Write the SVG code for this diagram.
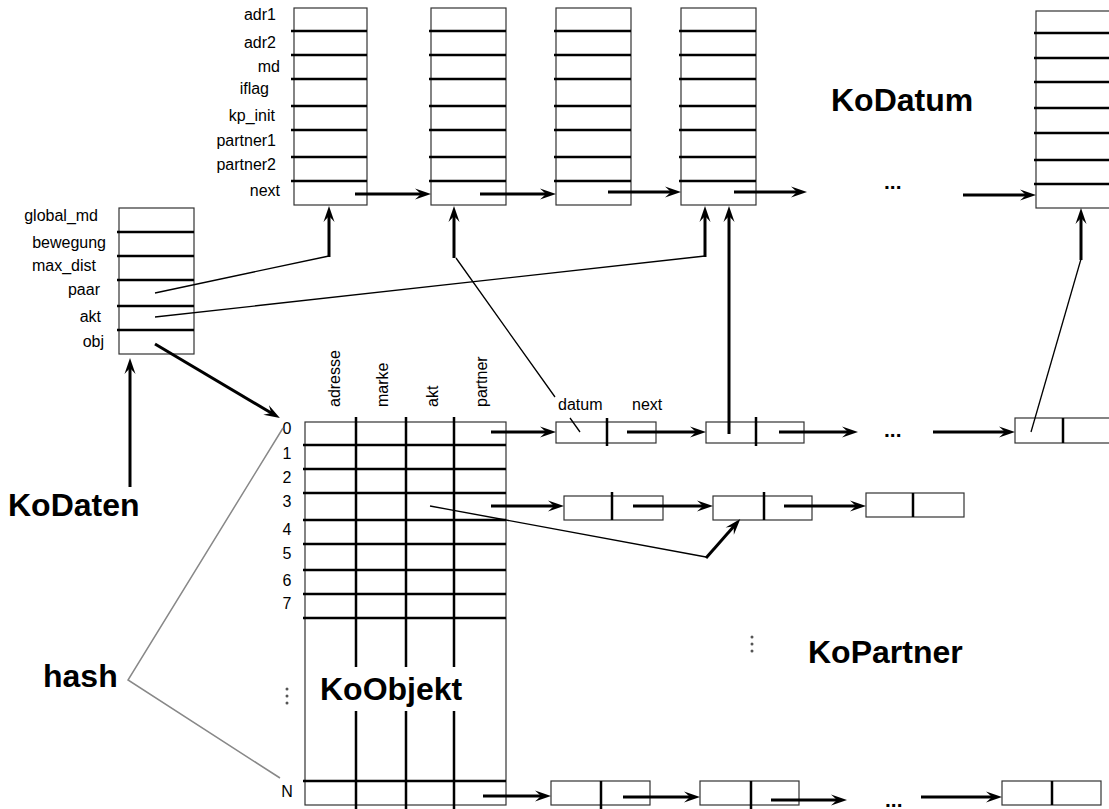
<svg xmlns="http://www.w3.org/2000/svg" width="1109" height="809" viewBox="0 0 1109 809">
<defs>
<marker id="ah" markerUnits="userSpaceOnUse" markerWidth="17" markerHeight="12" refX="8" refY="6" orient="auto" overflow="visible">
<path d="M0,0.5 L16,6 L0,11.5 L6,6 Z" fill="#000"/>
</marker>
<style>
.box{fill:#fff;stroke:#333;stroke-width:1.2}
.sep{stroke:#000;stroke-width:2.5;fill:none}
.arr{stroke:#000;stroke-width:3;fill:none;marker-end:url(#ah)}
.thin{stroke:#000;stroke-width:1.3;fill:none}
.gray{stroke:#888;stroke-width:1.5;fill:none}
.lbl{font-family:"Liberation Sans",Arial,sans-serif;font-size:16px;fill:#000}
.big{font-family:"Liberation Sans",Arial,sans-serif;font-size:32px;font-weight:bold;fill:#000}
.dots{font-family:"Liberation Sans",Arial,sans-serif;font-size:21px;font-weight:bold;fill:#000}
.vd{fill:#555}
</style>
</defs>
<rect width="1109" height="809" fill="#fff"/>

<!-- KoDatum records -->
<g id="kodatum-labels" class="lbl" text-anchor="end">
<text x="276" y="20">adr1</text>
<text x="276" y="48">adr2</text>
<text x="280" y="72">md</text>
<text x="269" y="94">iflag</text>
<text x="275" y="121">kp_init</text>
<text x="276" y="146">partner1</text>
<text x="276" y="170">partner2</text>
<text x="280" y="196">next</text>
</g>
<g id="kodatum1">
<rect class="box" x="294" y="8" width="73" height="197"/>
<path class="sep" d="M291,31H367M291,55H367M291,79H367M291,106H367M291,130H367M291,157H367M291,181H367"/>
</g>
<g id="kodatum2">
<rect class="box" x="431" y="8" width="75" height="197"/>
<path class="sep" d="M429,31H506M429,55H506M429,79H506M429,106H506M429,130H506M429,157H506M429,181H506"/>
</g>
<g id="kodatum3">
<rect class="box" x="556" y="8" width="75" height="197"/>
<path class="sep" d="M554,31H631M554,55H631M554,79H631M554,106H631M554,130H631M554,157H631M554,181H631"/>
</g>
<g id="kodatum4">
<rect class="box" x="681" y="8" width="75" height="197"/>
<path class="sep" d="M679,31H756M679,55H756M679,79H756M679,106H756M679,130H756M679,157H756M679,181H756"/>
</g>
<g id="kodatum5">
<rect class="box" x="1036" y="11" width="80" height="197"/>
<path class="sep" d="M1034,33H1109M1034,58H1109M1034,82H1109M1034,108H1109M1034,133H1109M1034,160H1109M1034,184H1109"/>
</g>
<text id="kodatum-title" class="big" x="831" y="111">KoDatum</text>
<text id="kodatum-dots" class="dots" x="884" y="189">...</text>

<!-- KoDaten record -->
<g id="kodaten">
<rect class="box" x="119" y="208" width="75" height="146"/>
<path class="sep" d="M117,232H194M117,256H194M117,280H194M117,306H194M117,330H194"/>
<g class="lbl" text-anchor="end">
<text x="98" y="221">global_md</text>
<text x="106" y="248">bewegung</text>
<text x="96" y="271">max_dist</text>
<text x="100" y="295">paar</text>
<text x="101" y="322">akt</text>
<text x="104" y="347">obj</text>
</g>
</g>
<text id="kodaten-title" class="big" x="8" y="516">KoDaten</text>

<!-- KoObjekt table -->
<g id="koobjekt">
<rect class="box" x="305" y="422" width="201" height="383"/>
<path class="sep" d="M303,445H506M303,469H506M303,493H506M303,520H506M303,544H506M303,570H506M303,594H506M303,618H506M303,781H506"/>
<path class="sep" d="M356,417V667M406,417V667M454,417V667M356,711V809M406,711V809M454,711V809"/>
<g class="lbl">
<text transform="translate(340,407) rotate(-90)">adresse</text>
<text transform="translate(388,407) rotate(-90)">marke</text>
<text transform="translate(438,407) rotate(-90)">akt</text>
<text transform="translate(487,407) rotate(-90)">partner</text>
</g>
<g class="lbl" text-anchor="middle">
<text x="287" y="434">0</text>
<text x="287" y="459">1</text>
<text x="287" y="483">2</text>
<text x="287" y="507">3</text>
<text x="287" y="535">4</text>
<text x="287" y="559">5</text>
<text x="287" y="586">6</text>
<text x="287" y="609">7</text>
<text x="287" y="797">N</text>
</g>
<circle class="vd" cx="287" cy="689" r="1.5"/>
<circle class="vd" cx="287" cy="696" r="1.5"/>
<circle class="vd" cx="287" cy="703" r="1.5"/>
<text class="big" x="320" y="700">KoObjekt</text>
</g>

<g id="hash">
<text class="big" x="43" y="687">hash</text>
<path class="gray" d="M283,428L128,680L280,778"/>
</g>

<!-- KoPartner lists -->
<g id="kopartner-row0">
<text class="lbl" x="558" y="410">datum</text>
<text class="lbl" x="632" y="410">next</text>
<rect class="box" x="556" y="422" width="100" height="21"/>
<path class="sep" d="M607,418V446"/>
<rect class="box" x="706" y="422" width="98" height="21"/>
<path class="sep" d="M756,417V446"/>
<text class="dots" x="884" y="437">...</text>
<rect class="box" x="1015" y="418" width="100" height="25"/>
<path class="sep" d="M1063,418V443"/>
</g>
<g id="kopartner-row3">
<rect class="box" x="564" y="496" width="99" height="24"/>
<path class="sep" d="M612,492V520"/>
<rect class="box" x="713" y="496" width="99" height="24"/>
<path class="sep" d="M764,492V520"/>
<rect class="box" x="866" y="493" width="98" height="24"/>
<path class="sep" d="M913,493V517"/>
</g>
<g id="kopartner-rowN">
<rect class="box" x="551" y="781" width="99" height="24"/>
<path class="sep" d="M601,781V809"/>
<rect class="box" x="700" y="781" width="99" height="24"/>
<path class="sep" d="M751,781V809"/>
<text class="dots" x="885" y="807">...</text>
<rect class="box" x="1002" y="781" width="99" height="24"/>
<path class="sep" d="M1052,781V805"/>
</g>
<g id="kopartner-label">
<circle class="vd" cx="752" cy="637" r="1.5"/>
<circle class="vd" cx="752" cy="644" r="1.5"/>
<circle class="vd" cx="752" cy="651" r="1.5"/>
<text class="big" x="808" y="663">KoPartner</text>
</g>

<!-- connectors -->
<g id="connectors">
<line class="arr" x1="355" y1="194" x2="423" y2="194"/>
<line class="arr" x1="480" y1="194" x2="548" y2="194"/>
<line class="arr" x1="608" y1="192" x2="673" y2="192"/>
<line class="arr" x1="734" y1="192" x2="799" y2="192"/>
<line class="arr" x1="963" y1="195" x2="1028" y2="195"/>

<path class="thin" d="M155,293L329,256"/>
<line class="arr" x1="329" y1="257" x2="329" y2="214"/>
<path class="thin" d="M456,258L555,397M570,418L580,432"/>
<line class="arr" x1="454" y1="258" x2="454" y2="214"/>
<path class="thin" d="M155,317L705,256"/>
<line class="arr" x1="705" y1="257" x2="705" y2="214"/>
<line class="arr" x1="729" y1="434" x2="729" y2="214"/>
<path class="thin" d="M1031,432L1081,259"/>
<line class="arr" x1="1081" y1="260" x2="1081" y2="216"/>

<line class="arr" x1="155" y1="344" x2="273" y2="414"/>
<line class="arr" x1="130" y1="487" x2="130" y2="366"/>

<line class="arr" x1="491" y1="432" x2="548" y2="432"/>
<line class="arr" x1="627" y1="432" x2="698" y2="432"/>
<line class="arr" x1="779" y1="432" x2="850" y2="432"/>
<line class="arr" x1="933" y1="432" x2="1007" y2="432"/>

<line class="arr" x1="491" y1="506" x2="556" y2="506"/>
<line class="arr" x1="633" y1="506" x2="705" y2="506"/>
<line class="arr" x1="784" y1="506" x2="858" y2="506"/>
<path class="thin" d="M430,506L706,557"/>
<line class="arr" x1="706" y1="558" x2="735" y2="525"/>

<line class="arr" x1="483" y1="796" x2="543" y2="796"/>
<line class="arr" x1="623" y1="797" x2="692" y2="797"/>
<line class="arr" x1="771" y1="800" x2="839" y2="800"/>
<line class="arr" x1="921" y1="797" x2="994" y2="797"/>
</g>
</svg>
